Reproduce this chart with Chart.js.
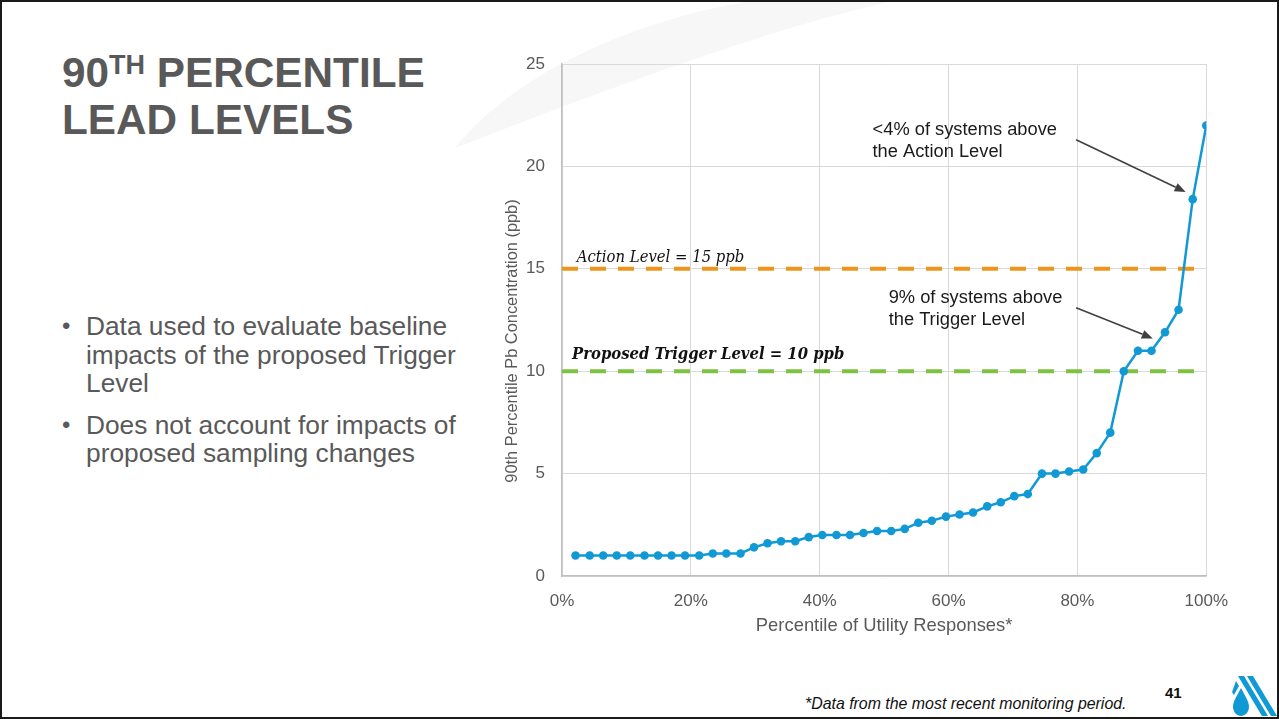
<!DOCTYPE html>
<html>
<head>
<meta charset="utf-8">
<script src="https://cdn.jsdelivr.net/npm/chart.js@4"></script>
<style>
  html, body { margin: 0; padding: 0; background: #fff; }
  #slide {
    position: relative; width: 1279px; height: 719px; box-sizing: border-box;
    border: 2px solid #1a1a1a; overflow: hidden; background: #fff;
    font-family: "Liberation Sans", Arial, sans-serif; color: #595959;
  }
  #swoosh { position: absolute; left: -2px; top: -2px; z-index: 0; }
  .tline {
    position: absolute; left: 60px; margin: 0; white-space: nowrap;
    font-size: 42.3px; font-weight: bold; line-height: 48px; color: #595959;
  }
  .tline sup { font-size: 27px; line-height: 0; vertical-align: 0; position: relative; top: -13px; }
  #bullets {
    position: absolute; left: 60px; top: 310px; width: 440px; margin: 0; padding: 0;
    list-style: none; font-size: 26.3px; line-height: 28.5px; color: #595959;
  }
  #bullets li { position: relative; padding-left: 24px; margin-bottom: 13px; }
  #bullets li::before { content: "\2022"; position: absolute; left: 0; top: 0; font-size: 24px; }
  #chartBox { position: absolute; left: 488px; top: 32px; width: 753px; height: 616px; z-index: 1; }
  #note {
    position: absolute; left: 803px; top: 693px; font-size: 15.9px; font-style: italic; color: #111;
  }
  #page { position: absolute; left: 1163px; top: 682px; font-size: 15px; font-weight: bold; color: #111; }
  #logo { position: absolute; left: 1226px; top: 672px; }
</style>
</head>
<body>
<div id="slide">
  <svg id="swoosh" width="1279" height="719">
    <path d="M 455 148 C 515 72 640 16 770 -2 L 905 -2 C 760 30 600 92 455 148 Z" fill="#f7f7f7"/>
  </svg>
  <div class="tline" style="top:47px">90<sup>TH</sup> PERCENTILE</div>
  <div class="tline" style="top:94px">LEAD LEVELS</div>
  <ul id="bullets">
    <li>Data used to evaluate baseline impacts of the proposed Trigger Level</li>
    <li>Does not account for impacts of proposed sampling changes</li>
  </ul>
  <div id="chartBox"><canvas id="chart" width="753" height="616"></canvas></div>
  <div id="note">*Data from the most recent monitoring period.</div>
  <div id="page">41</div>
  <svg id="logo" width="50" height="44">
    <g fill="#0f9ad6">
      <path d="M 10 2 L 16 2 L 40 42 L 34 42 Z"/>
      <path d="M 19 2 L 25 2 L 49 42 L 43 42 Z"/>
      <path d="M 8 7 L 11 12 L 6 21 L 4 18 Z"/>
      <path d="M 13 14 C 17 22 21 27 21 33 C 21 38 17 42 13 42 C 9 42 5 38 5 33 C 5 27 9 22 13 14 Z"/>
    </g>
  </svg>
</div>
<script>
// Percentile rank of each utility response (x, %) and its 90th percentile lead result (y, ppb)
const percentile = [2.1, 4.3, 6.4, 8.5, 10.6, 12.8, 14.9, 17.0, 19.1, 21.3,
  23.4, 25.5, 27.7, 29.8, 31.9, 34.0, 36.2, 38.3, 40.4, 42.6,
  44.7, 46.8, 48.9, 51.1, 53.2, 55.3, 57.4, 59.6, 61.7, 63.8,
  66.0, 68.1, 70.2, 72.3, 74.5, 76.6, 78.7, 80.9, 83.0, 85.1,
  87.2, 89.4, 91.5, 93.6, 95.7, 97.9, 100.0];
const leadPpb = [1.0, 1.0, 1.0, 1.0, 1.0, 1.0, 1.0, 1.0, 1.0, 1.0,
  1.1, 1.1, 1.1, 1.4, 1.6, 1.7, 1.7, 1.9, 2.0, 2.0,
  2.0, 2.1, 2.2, 2.2, 2.3, 2.6, 2.7, 2.9, 3.0, 3.1,
  3.4, 3.6, 3.9, 4.0, 5.0, 5.0, 5.1, 5.2, 6.0, 7.0,
  10.0, 11.0, 11.0, 11.9, 13.0, 18.4, 22.0];

// Regulatory reference levels (ppb) and the x extent of their dashed lines (%)
const levelNames = ['Action Level = 15 ppb', 'Proposed Trigger Level = 10 ppb'];
const levelValues = [15, 10];
const levelSpan = [0, 98.1];

// Axis tick labels and titles
const xTickLabels = ['0%', '20%', '40%', '60%', '80%', '100%'];
const yTickLabels = ['0', '5', '10', '15', '20', '25'];
const xTitle = 'Percentile of Utility Responses*';
const yTitle = '90th Percentile Pb Concentration (ppb)';

// Callouts: text lines, text anchor (x %, y ppb), arrow start and arrow tip (x %, y ppb)
const calloutText = [['<4% of systems above', 'the Action Level'], ['9% of systems above', 'the Trigger Level']];
const calloutAnchor = [[48.2, 21.8], [50.7, 13.6]];
const arrowFrom = [[79.8, 21.3], [79.8, 13.1]];
const arrowTo = [[96.8, 18.75], [91.7, 11.6]];

const SANS = '"Liberation Sans", Arial, sans-serif';
const SERIF = '"DejaVu Serif Condensed", "DejaVu Serif", serif';
const GREY = '#595959';

const levelStyle = [
  { font: 'italic 16.5px ' + SERIF, dx: 2.3, dy: -11 },
  { font: 'bold italic 16.5px ' + SERIF, dx: 1.55, dy: -16 }
];

const callouts = {
  id: 'callouts',
  afterDatasetsDraw(chart) {
    const { ctx, chartArea, scales: { x, y } } = chart;
    ctx.save();
    // rotated y-axis title
    ctx.save();
    ctx.translate(22, (chartArea.top + chartArea.bottom) / 2 + 21);
    ctx.rotate(-Math.PI / 2);
    ctx.font = '16.4px ' + SANS;
    ctx.fillStyle = GREY;
    ctx.textAlign = 'center';
    ctx.textBaseline = 'middle';
    ctx.fillText(yTitle, 0, 0);
    ctx.restore();
    // level captions above their dashed lines
    levelNames.forEach((name, i) => {
      ctx.font = levelStyle[i].font;
      ctx.fillStyle = '#111';
      ctx.textBaseline = 'middle';
      ctx.textAlign = 'left';
      ctx.fillText(name, x.getPixelForValue(levelStyle[i].dx), y.getPixelForValue(levelValues[i]) + levelStyle[i].dy);
    });
    // callout texts
    ctx.font = '18.3px ' + SANS;
    ctx.fillStyle = '#1a1a1a';
    calloutText.forEach((lines, i) => {
      const px = x.getPixelForValue(calloutAnchor[i][0]);
      const py = y.getPixelForValue(calloutAnchor[i][1]);
      lines.forEach((t, j) => ctx.fillText(t, px, py + j * 22));
    });
    // arrows
    ctx.strokeStyle = '#404040';
    ctx.fillStyle = '#404040';
    ctx.lineWidth = 1.6;
    arrowFrom.forEach((a, i) => {
      const x0 = x.getPixelForValue(a[0]), y0 = y.getPixelForValue(a[1]);
      const x1 = x.getPixelForValue(arrowTo[i][0]), y1 = y.getPixelForValue(arrowTo[i][1]);
      const ang = Math.atan2(y1 - y0, x1 - x0);
      const L = 11, W = 4.5;
      const bx = x1 - L * Math.cos(ang), by = y1 - L * Math.sin(ang);
      ctx.beginPath();
      ctx.moveTo(x0, y0);
      ctx.lineTo(bx, by);
      ctx.stroke();
      ctx.beginPath();
      ctx.moveTo(x1, y1);
      ctx.lineTo(bx + W * Math.sin(ang), by - W * Math.cos(ang));
      ctx.lineTo(bx - W * Math.sin(ang), by + W * Math.cos(ang));
      ctx.closePath();
      ctx.fill();
    });
    ctx.restore();
  }
};

const levelColors = ['#ee961c', '#7dc242'];
const levelSets = levelValues.map((v, i) => ({
  data: levelSpan.map(px => ({ x: px, y: v })),
  borderColor: levelColors[i],
  borderWidth: 4,
  borderDash: [16, 12],
  borderCapStyle: 'butt',
  pointRadius: 0,
  fill: false,
  order: 2
}));

new Chart(document.getElementById('chart'), {
  type: 'line',
  data: {
    datasets: [{
      label: '90th Percentile Pb',
      data: percentile.map((p, i) => ({ x: p, y: leadPpb[i] })),
      borderColor: '#1199d6',
      backgroundColor: '#1199d6',
      borderWidth: 2.5,
      pointRadius: 4.3,
      pointHoverRadius: 4.3,
      pointBorderWidth: 0,
      tension: 0,
      order: 0
    }, ...levelSets]
  },
  options: {
    responsive: false,
    animation: false,
    events: [],
    layout: { padding: { top: 30, right: 36, left: 0, bottom: 0 } },
    plugins: { legend: { display: false }, tooltip: { enabled: false } },
    scales: {
      x: {
        type: 'linear', min: 0, max: 100,
        afterBuildTicks: s => { s.ticks = xTickLabels.map((t, i) => ({ value: i * 20 })); },
        ticks: { callback: (v, i) => xTickLabels[i], color: GREY, font: { family: SANS, size: 17 }, padding: 15, maxRotation: 0 },
        grid: { color: '#d9d9d9', drawTicks: false, lineWidth: 1 },
        border: { color: '#bfbfbf', width: 1.5 },
        title: { display: true, text: xTitle, color: GREY, font: { family: SANS, size: 18.4 }, padding: { top: 4, bottom: 13 } },
        afterFit: s => { s.height = 74; }
      },
      y: {
        min: 0, max: 25,
        afterBuildTicks: s => { s.ticks = yTickLabels.map((t, i) => ({ value: i * 5 })); },
        ticks: { callback: (v, i) => yTickLabels[i], color: GREY, font: { family: SANS, size: 17 }, padding: 17 },
        grid: { color: '#d9d9d9', drawTicks: false, lineWidth: 1 },
        border: { color: '#bfbfbf', width: 1.5 },
        title: { display: false },
        afterFit: s => { s.width = 72; }
      }
    }
  },
  plugins: [callouts]
});
</script>
</body>
</html>
